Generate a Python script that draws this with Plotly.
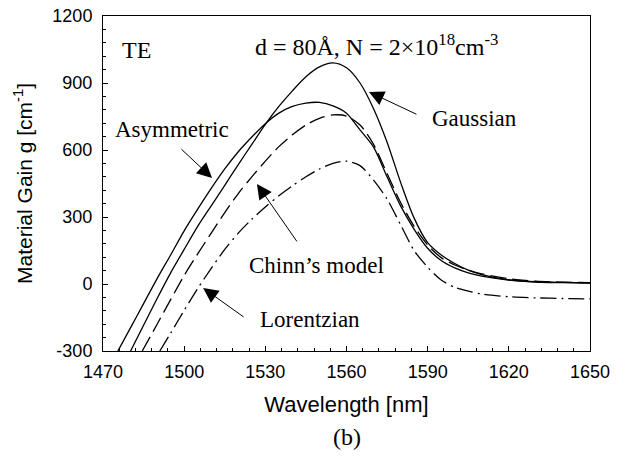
import plotly.graph_objects as go

# Material gain spectra (TE, d = 80 Å, N = 2e18 cm^-3) for four lineshape models
wl_asym = [1475.5, 1480, 1485, 1490, 1495, 1500, 1505, 1510, 1515, 1520, 1525, 1530,
           1535, 1540, 1545, 1550, 1555, 1560, 1565, 1570, 1575, 1580, 1585, 1590,
           1595, 1600, 1605, 1610, 1620, 1630, 1640, 1650]
gain_asym = [-300, -200, -88, 24, 130, 238, 335, 428, 515, 592, 658, 718,
             765, 795, 810, 813, 798, 765, 690, 613, 480, 350, 245, 160,
             105, 72, 50, 35, 18, 10, 7, 5]

wl_gauss = [1480, 1485, 1490, 1495, 1500, 1505, 1510, 1515, 1520, 1525, 1530, 1535,
            1540, 1545, 1550, 1555, 1560, 1565, 1570, 1575, 1580, 1585, 1590, 1595,
            1600, 1605, 1610, 1620, 1630, 1640, 1650]
gain_gauss = [-305, -185, -65, 50, 155, 258, 350, 442, 535, 625, 715, 795,
              865, 928, 972, 990, 968, 900, 785, 635, 455, 295, 185, 130,
              92, 62, 42, 18, 9, 6, 4]

wl_chinn = [1484.5, 1490, 1495, 1500, 1505, 1510, 1515, 1520, 1525, 1530, 1535, 1540,
            1545, 1550, 1555, 1560, 1565, 1570, 1575, 1580, 1585, 1590, 1595, 1600,
            1605, 1610, 1620, 1630, 1640, 1650]
gain_chinn = [-300, -180, -70, 38, 135, 228, 320, 405, 480, 550, 615, 668,
              712, 742, 757, 752, 712, 625, 495, 365, 258, 175, 118, 85,
              62, 45, 24, 13, 8, 6]

wl_lor = [1491, 1495, 1500, 1505, 1510, 1515, 1520, 1525, 1530, 1535, 1540, 1545,
          1550, 1555, 1560, 1565, 1570, 1575, 1580, 1585, 1590, 1595, 1600, 1605,
          1610, 1620, 1630, 1640, 1650]
gain_lor = [-300, -220, -118, -20, 70, 155, 228, 290, 345, 395, 440, 480,
            515, 540, 550, 530, 465, 380, 265, 150, 75, 18, -15, -32,
            -45, -57, -62, -65, -67]

x_ticks = [1470, 1500, 1530, 1560, 1590, 1620, 1650]
y_ticks = [-300, 0, 300, 600, 900, 1200]
y_tick_text = ["-300", "0", "300", "600", "900", "1200"]

SERIF = "Liberation Serif, Times New Roman, serif"
SANS = "Liberation Sans, Arial, sans-serif"

fig = go.Figure()
line_w = 1.3
fig.add_trace(go.Scatter(x=wl_asym, y=gain_asym, mode="lines", name="Asymmetric",
                         line=dict(color="black", width=line_w, shape="spline", smoothing=0.8)))
fig.add_trace(go.Scatter(x=wl_gauss, y=gain_gauss, mode="lines", name="Gaussian",
                         line=dict(color="black", width=line_w, shape="spline", smoothing=0.8)))
fig.add_trace(go.Scatter(x=wl_chinn, y=gain_chinn, mode="lines", name="Chinn’s model",
                         line=dict(color="black", width=line_w, shape="spline", smoothing=0.8,
                                   dash="16px,6px")))
fig.add_trace(go.Scatter(x=wl_lor, y=gain_lor, mode="lines", name="Lorentzian",
                         line=dict(color="black", width=line_w, shape="spline", smoothing=0.8,
                                   dash="16px,5px,2px,5px")))

# pointer arrows: (tip x, tip y, tail offset x, tail offset y)
arrows = [
    (1510.3, 475, -32, -30),
    (1568.3, 860, 49, 23),
    (1526.9, 448, 41, 59),
    (1507.0, -18, 42, 30),
]
for tx, ty, ax, ay in arrows:
    fig.add_annotation(x=tx, y=ty, ax=ax, ay=ay, text="", showarrow=True,
                       arrowhead=2, arrowsize=3, arrowwidth=1, arrowcolor="black")

labels = [
    ("TE", 1476.3, 1048, 24),
    ("d = 80Å, N = 2×10<sup>18</sup>cm<sup>-3</sup>", 1525.4, 1070, 24),
    ("Asymmetric", 1473.7, 690, 23),
    ("Gaussian", 1590.9, 743, 23),
    ("Chinn’s model", 1523.2, 81, 23),
    ("Lorentzian", 1527.3, -161, 23),
]
for txt, lx, ly, fs in labels:
    fig.add_annotation(x=lx, y=ly, text=txt, showarrow=False, xanchor="left",
                       yanchor="middle", font=dict(family=SERIF, size=fs, color="black"))

fig.add_annotation(x=0.5, y=-0.257, xref="paper", yref="paper", text="(b)",
                   showarrow=False, xanchor="center", yanchor="middle",
                   font=dict(family=SERIF, size=24, color="black"))

axis_common = dict(showline=True, linecolor="black", linewidth=1, mirror=True,
                   ticks="inside", ticklen=5, tickwidth=1, tickcolor="black",
                   showgrid=False, zeroline=False,
                   tickfont=dict(family=SANS, size=18, color="black"))

fig.update_xaxes(range=[1470, 1650], tickvals=x_ticks, ticklabelstandoff=4,
                 minor=dict(dtick=6, ticks="inside", ticklen=3, tickcolor="black"),
                 title=dict(text="Wavelength [nm]", font=dict(family=SANS, size=22, color="black"),
                            standoff=16),
                 **axis_common)
fig.update_yaxes(range=[-300, 1200], tickvals=y_ticks, ticktext=y_tick_text,
                 ticklabelstandoff=6,
                 minor=dict(dtick=60, ticks="inside", ticklen=3, tickcolor="black"),
                 title=dict(text="Material Gain g [cm<sup>-1</sup>]",
                            font=dict(family=SANS, size=21, color="black"), standoff=14),
                 **axis_common)

fig.update_layout(width=626, height=457, showlegend=False,
                  paper_bgcolor="white", plot_bgcolor="white",
                  margin=dict(l=103, r=36, t=16, b=106, autoexpand=False))

fig.write_html("out.html")
